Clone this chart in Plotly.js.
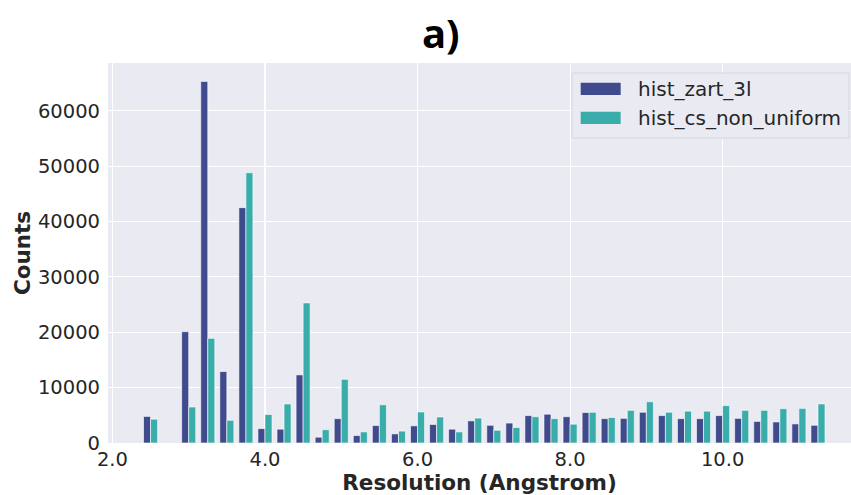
<!DOCTYPE html>
<html>
<head>
<meta charset="utf-8">
<script src="https://cdn.plot.ly/plotly-3.0.1.min.js"></script>
<style>
  html, body { margin: 0; padding: 0; background: #ffffff; }
  #chart { width: 851px; height: 495px; }
</style>
</head>
<body>
<div id="chart"></div>
<script>
// Bin centres (Resolution, Angstrom)
const resolution = [2.5, 3.0, 3.25, 3.5, 3.75, 4.0, 4.25, 4.5, 4.75, 5.0, 5.25, 5.5, 5.75,
  6.0, 6.25, 6.5, 6.75, 7.0, 7.25, 7.5, 7.75, 8.0, 8.25, 8.5, 8.75, 9.0, 9.25, 9.5, 9.75,
  10.0, 10.25, 10.5, 10.75, 11.0, 11.25];

// Counts per bin
const histZart3l = [4800, 20100, 65300, 12900, 42500, 2600, 2500, 12300, 1050, 4400, 1350, 3150, 1650,
  3100, 3350, 2500, 4000, 3200, 3600, 4950, 5200, 4750, 5500, 4400, 4450, 5550, 4950, 4400, 4400,
  4950, 4450, 3900, 3800, 3450, 3200];

const histCsNonUniform = [4300, 6500, 18900, 4100, 48800, 5150, 7050, 25300, 2400, 11500, 2000, 6900, 2150,
  5600, 4700, 2000, 4500, 2300, 2800, 4750, 4400, 3400, 5550, 4600, 5900, 7450, 5550, 5750, 5750,
  6750, 5900, 5900, 6200, 6250, 7050];

const seriesNames = ["hist_zart_3l", "hist_cs_non_uniform"];
const seriesColors = ["#404B8D", "#3AACAA"];

const xTickVals = [2.0, 4.0, 6.0, 8.0, 10.0];
const yTickVals = [0, 10000, 20000, 30000, 40000, 50000, 60000];

const xRange = [1.942, 11.683];
const yRange = [0, 68620];

const fontFam = "DejaVu Sans, sans-serif";
const textColor = "#262626";

const traces = [histZart3l, histCsNonUniform].map((vals, i) => ({
  type: "bar",
  x: resolution,
  y: vals,
  name: seriesNames[i],
  marker: { color: seriesColors[i], line: { color: "rgba(255,255,255,0.75)", width: 0.8 } },
  showlegend: false,
  hoverinfo: "x+y+name"
}));

// Custom legend (matplotlib-like wide swatches), positioned in paper coordinates
const legendShapes = [
  { type: "rect", xref: "paper", yref: "paper", x0: 0.6245, x1: 0.9973, y0: 0.8026, y1: 0.9737,
    fillcolor: "#EAEAF2", line: { color: "#D6D6DE", width: 1 }, layer: "above" },
  { type: "rect", xref: "paper", yref: "paper", x0: 0.6362, x1: 0.6900, y0: 0.9158, y1: 0.9482,
    fillcolor: seriesColors[0], line: { width: 0 }, layer: "above" },
  { type: "rect", xref: "paper", yref: "paper", x0: 0.6362, x1: 0.6900, y0: 0.8395, y1: 0.8718,
    fillcolor: seriesColors[1], line: { width: 0 }, layer: "above" }
];
const legendAnnots = [
  { xref: "paper", yref: "paper", x: 0.7100, y: 0.9316, xanchor: "left", yanchor: "middle",
    text: seriesNames[0], showarrow: false, font: { family: fontFam, size: 20, color: textColor } },
  { xref: "paper", yref: "paper", x: 0.7100, y: 0.8553, xanchor: "left", yanchor: "middle",
    text: seriesNames[1], showarrow: false, font: { family: fontFam, size: 20, color: textColor } }
];

const layout = {
  width: 851,
  height: 495,
  paper_bgcolor: "#ffffff",
  plot_bgcolor: "#EAEAF2",
  margin: { l: 108, r: 0, t: 63, b: 52, pad: 0 },
  barmode: "group",
  bargap: 0.263,
  bargroupgap: 0,
  title: {
    text: "<b>a)</b>",
    font: { family: "Open Sans, sans-serif", size: 40, color: "#000000" },
    xref: "container", x: 0.518, xanchor: "center",
    yref: "container", y: 0.932, yanchor: "middle"
  },
  xaxis: {
    range: xRange,
    tickvals: xTickVals,
    tickformat: ".1f",
    showgrid: true,
    gridcolor: "#ffffff",
    gridwidth: 1.1,
    zeroline: false,
    showline: false,
    ticks: "",
    ticklabelstandoff: 2,
    tickfont: { family: fontFam, size: 19.5, color: textColor },
    title: { text: "<b>Resolution (Angstrom)</b>", font: { family: fontFam, size: 21.5, color: textColor }, standoff: 2 }
  },
  yaxis: {
    range: yRange,
    tickvals: yTickVals,
    tickformat: "d",
    showgrid: true,
    gridcolor: "#ffffff",
    gridwidth: 1.1,
    zeroline: false,
    showline: false,
    ticks: "",
    ticklabelstandoff: 7,
    tickfont: { family: fontFam, size: 19.5, color: textColor },
    title: { text: "<b>Counts</b>", font: { family: fontFam, size: 21.5, color: textColor }, standoff: 1 }
  },
  shapes: legendShapes,
  annotations: legendAnnots
};

Plotly.newPlot("chart", traces, layout, { staticPlot: true, displayModeBar: false });
</script>
</body>
</html>
